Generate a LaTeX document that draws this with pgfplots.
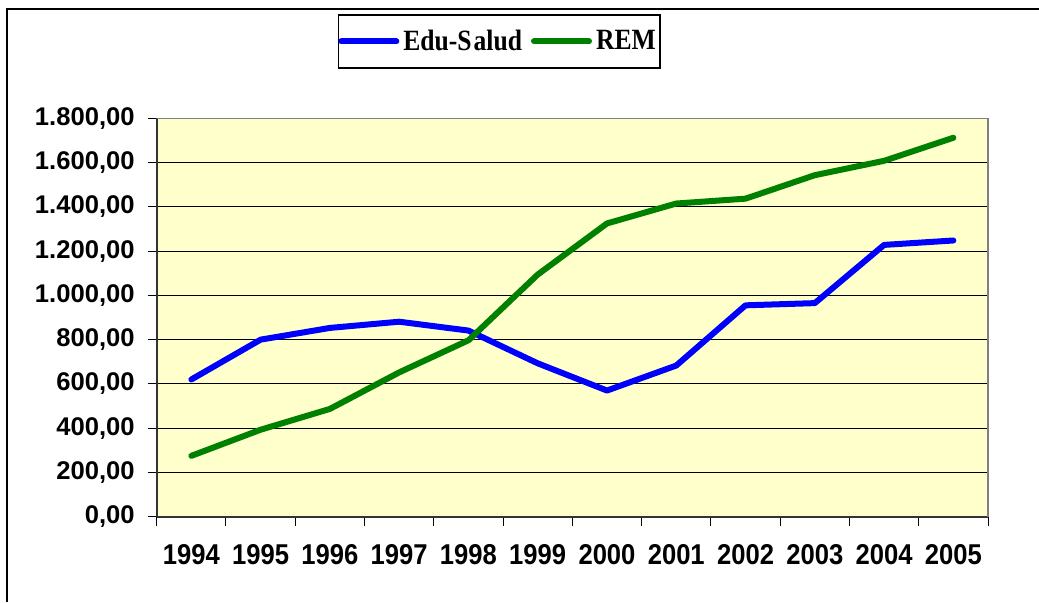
\documentclass[border=0pt]{standalone}
\usepackage{fontspec}
\setmainfont{Liberation Sans}
\newfontfamily\legfont{Liberation Serif}
\usepackage{graphicx}
\usepackage{pgfplots}
\pgfplotsset{compat=1.18}
\definecolor{bgyellow}{HTML}{FFFFCC}
\definecolor{edublue}{HTML}{0000FF}
\definecolor{remgreen}{HTML}{008000}
\newcommand{\yl}[1]{\scalebox{1}[1.12]{#1}}
\newcommand{\legl}[1]{\scalebox{1}[1.15]{#1}}
\begin{document}
\begin{tikzpicture}
\path[use as bounding box] (0,0) rectangle (519.5pt,301pt);
\draw[line width=1pt] (3.5pt,0) -- (3.5pt,296.5pt) -- (519.5pt,296.5pt);
\begin{axis}[
  at={(78.35pt,42.65pt)}, anchor=south west,
  width=415.65pt, height=199.2pt, scale only axis,
  xmin=-0.5, xmax=11.5, ymin=0, ymax=1800,
  xtick={0,1,2,3,4,5,6,7,8,9,10,11},
  xticklabels={\yl{1994},\yl{1995},\yl{1996},\yl{1997},\yl{1998},\yl{1999},\yl{2000},\yl{2001},\yl{2002},\yl{2003},\yl{2004},\yl{2005}},
  major x tick style={draw=none},
  minor xtick={-0.5,0.5,1.5,2.5,3.5,4.5,5.5,6.5,7.5,8.5,9.5,10.5,11.5},
  minor tick length=4.5pt, major tick length=4.5pt, tick align=outside,
  ytick={0,200,...,1800},
  ymajorgrids, grid style={black, line width=0.5pt},
  axis x line*=bottom, axis y line*=left,
  axis line style={-, line width=0.8pt, draw=black!80},
  tick style={black, line width=0.5pt},
  axis background/.style={fill=bgyellow},
  ticklabel style={font=\fontsize{12.8}{15}\selectfont\bfseries},
  xticklabel style={yshift=-6pt},
  yticklabel style={xshift=-3pt, /pgf/number format/.cd, fixed, fixed zerofill, precision=2, use comma, 1000 sep={.}, assume math mode=true},
  legend columns=2,
  legend style={at={(axis description cs:0.4118,1.1928)}, anchor=center, draw=black, line width=0.8pt, fill=white,
    inner xsep=0pt, inner ysep=5.5pt,
    font=\legfont\fontsize{12.8}{15}\selectfont\bfseries,
    /tikz/every even column/.append style={column sep=2.5pt}},
  legend image code/.code={\draw[#1, line cap=round] (0pt,0pt) -- (27.5pt,0pt);},
  after end axis/.code={\draw[gray, line width=0.8pt] (rel axis cs:0,1) -- (rel axis cs:1,1) -- (rel axis cs:1,0);},
]
\addplot[edublue, line width=3pt, line join=round, line cap=round] coordinates {
  (0,620) (1,800) (2,853) (3,881) (4,841) (5,693) (6,570) (7,683) (8,955) (9,965) (10,1228) (11,1248)};
\addlegendentry{\legl{Edu-S\kern1pt alud}}
\addplot[remgreen, line width=3pt, line join=round, line cap=round] coordinates {
  (0,275) (1,393) (2,487) (3,652) (4,797) (5,1094) (6,1325) (7,1415) (8,1437) (9,1543) (10,1608) (11,1712)};
\addlegendentry{\legl{REM}}
\end{axis}
\end{tikzpicture}
\end{document}
